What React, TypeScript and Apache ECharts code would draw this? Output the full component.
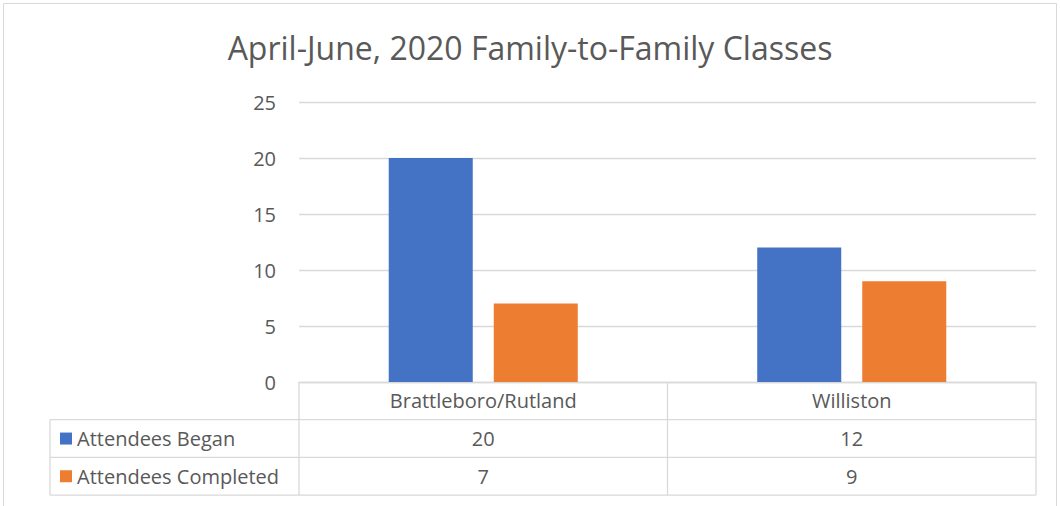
import React, { useEffect, useRef } from "react";
import * as echarts from "echarts";

const categories = ["Brattleboro/Rutland", "Williston"];
const seriesNames = ["Attendees Began", "Attendees Completed"];
const began = [20, 12];
const completed = [7, 9];
const colors = ["#4472C4", "#ED7D31"];
const yTicks = { min: 0, max: 25, interval: 5 };

export default function App() {
  const ref = useRef<HTMLDivElement>(null);
  useEffect(() => {
    document.body.style.margin = "0";
    const chart = echarts.init(ref.current!, undefined, { renderer: "svg" });
    const W = 1060;
    const gl = 299, gr = 1036, gt = 102, gb = 382;
    const rowH = 37.7;
    const tableLeft = 50;
    const font = "'Open Sans', 'Noto Sans', sans-serif";
    const fs = 20;
    const txt = "#595959";
    const line = "#d9d9d9";
    const seriesData = [began, completed];
    const colW = (gr - gl) / categories.length;
    const graphics: any[] = [];
    graphics.push({ type: "rect", shape: { x: 3.5, y: 3.5, width: 1053, height: 520 }, style: { fill: "none", stroke: "#d9d9d9", lineWidth: 1 }, silent: true });
    for (let r = 1; r <= 3; r++) {
      const y = gb + rowH * r;
      graphics.push({ type: "line", shape: { x1: tableLeft, y1: y, x2: gr, y2: y }, style: { stroke: line, lineWidth: 1.3 } });
    }
    for (let c = 0; c <= categories.length; c++) {
      const x = gl + colW * c;
      graphics.push({ type: "line", shape: { x1: x, y1: gb, x2: x, y2: gb + rowH * 3 }, style: { stroke: line, lineWidth: 1.3 } });
    }
    graphics.push({ type: "line", shape: { x1: tableLeft, y1: gb + rowH, x2: tableLeft, y2: gb + rowH * 3 }, style: { stroke: line, lineWidth: 1.3 } });
    seriesNames.forEach((name, si) => {
      const cy = gb + rowH * (si + 1) + rowH / 2;
      graphics.push({ type: "rect", shape: { x: 60, y: cy - 6, width: 12, height: 12 }, style: { fill: colors[si] } });
      graphics.push({ type: "text", x: 77, y: cy, style: { text: name, fill: txt, font: `${fs}px ${font}`, textAlign: "left", textVerticalAlign: "middle" } });
      seriesData[si].forEach((v, ci) => {
        graphics.push({ type: "text", x: gl + colW * (ci + 0.5), y: cy, style: { text: String(v), fill: txt, font: `${fs}px ${font}`, textAlign: "center", textVerticalAlign: "middle" } });
      });
    });

    chart.setOption({
      animation: false,
      backgroundColor: "#fff",
      title: {
        text: "April-June, 2020 Family-to-Family Classes",
        left: "center",
        top: 26,
        textStyle: { color: txt, fontSize: 32, fontWeight: "normal", fontFamily: font },
      },
      grid: { left: gl, right: W - gr, top: gt, bottom: 506 - gb },
      xAxis: {
        type: "category",
        data: categories,
        axisLine: { show: true, lineStyle: { color: line, width: 1.3 } },
        axisTick: { show: false },
        axisLabel: { color: txt, fontSize: fs, fontFamily: font, margin: 8, verticalAlign: "top" },
      },
      yAxis: {
        type: "value",
        min: yTicks.min,
        max: yTicks.max,
        interval: yTicks.interval,
        axisLine: { show: false },
        axisTick: { show: false },
        splitLine: { lineStyle: { color: line, width: 1.3 } },
        axisLabel: { color: txt, fontSize: fs, fontFamily: font, margin: 23 },
      },
      series: seriesNames.map((name, i) => ({
        name,
        type: "bar",
        data: seriesData[i],
        itemStyle: { color: colors[i] },
        barWidth: "22.8%",
        barGap: "25%",
      })),
      graphic: graphics,
    });
    return () => chart.dispose();
  }, []);
  return <div ref={ref} style={{ width: 1060, height: 506 }} />;
}
